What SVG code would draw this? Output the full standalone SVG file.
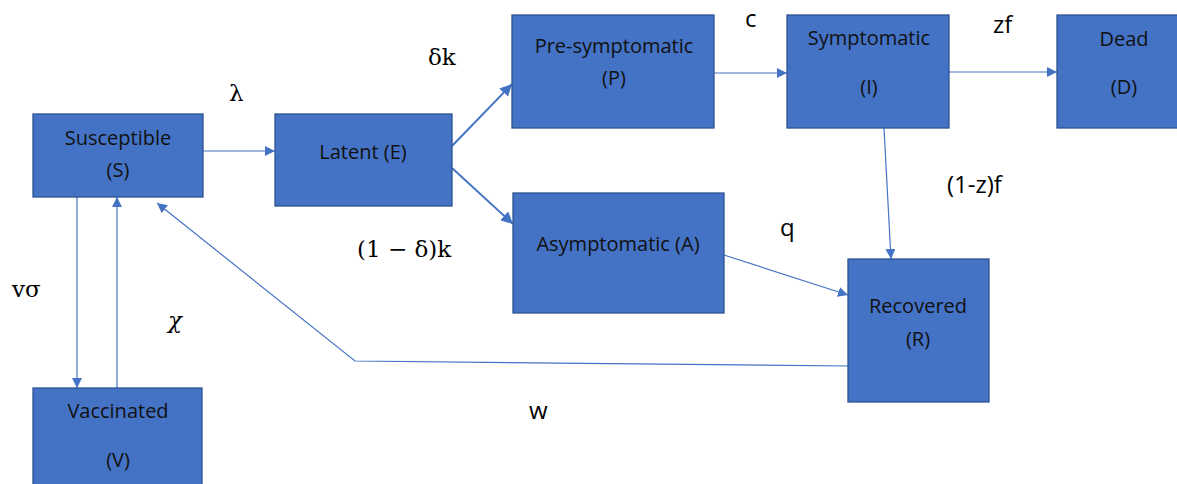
<svg xmlns="http://www.w3.org/2000/svg" width="1177" height="484" viewBox="0 0 1177 484">
<style>
.box{fill:#4472C4;stroke:#2F528F;stroke-width:1.3}
.t{font-family:"Open Sans",Lato,"Liberation Sans",sans-serif;font-size:20px;fill:#111;text-anchor:middle}
.c{stroke:#4472C4;stroke-width:1.2;fill:none}
.ct{stroke:#4472C4;stroke-width:2;fill:none}
.lab{font-family:"Open Sans",Lato,"Liberation Sans",sans-serif;font-size:24px;fill:#000}
.mth{font-family:"DejaVu Serif","Liberation Serif",serif;font-size:23px;fill:#000}
</style>
<defs>
<marker id="ah" viewBox="0 0 10 10" refX="10" refY="5" markerWidth="10" markerHeight="10" markerUnits="userSpaceOnUse" orient="auto">
<path d="M0,0 L10,5 L0,10 z" fill="#4472C4"/>
</marker>
<marker id="ah2" viewBox="0 0 10 10" refX="10" refY="5" markerWidth="12" markerHeight="12" markerUnits="userSpaceOnUse" orient="auto">
<path d="M0,0 L10,5 L0,10 z" fill="#4472C4"/>
</marker>
</defs>
<rect width="1177" height="484" fill="#fff"/>
<g id="connectors">
<line class="c" x1="203" y1="151" x2="275" y2="151" marker-end="url(#ah)"/>
<line class="ct" x1="452" y1="146" x2="512" y2="84" marker-end="url(#ah2)"/>
<line class="ct" x1="452" y1="168" x2="513" y2="224" marker-end="url(#ah2)"/>
<line class="c" x1="714" y1="73" x2="787" y2="73" marker-end="url(#ah)"/>
<line class="c" x1="949" y1="72" x2="1057" y2="72" marker-end="url(#ah)"/>
<line class="c" x1="884" y1="128" x2="891" y2="259" marker-end="url(#ah)"/>
<line class="c" x1="724" y1="255" x2="848" y2="295" marker-end="url(#ah)"/>
<line class="c" x1="77" y1="197" x2="77" y2="388" marker-end="url(#ah)"/>
<line class="c" x1="117" y1="388" x2="117" y2="197" marker-end="url(#ah)"/>
<polyline class="c" points="848,366 355,361 157,203" marker-end="url(#ah)"/>
</g>
<g id="S"><rect class="box" x="33" y="114" width="170" height="83"/><text class="t" x="118" y="145">Susceptible</text><text class="t" x="118" y="177">(S)</text></g>
<g id="E"><rect class="box" x="275" y="114" width="177" height="92"/><text class="t" x="363" y="159">Latent (E)</text></g>
<g id="P"><rect class="box" x="512" y="15" width="202" height="113"/><text class="t" x="614" y="53">Pre-symptomatic</text><text class="t" x="614" y="85">(P)</text></g>
<g id="I"><rect class="box" x="787" y="15" width="162" height="113"/><text class="t" x="869" y="45">Symptomatic</text><text class="t" x="869" y="94">(I)</text></g>
<g id="D"><rect class="box" x="1057" y="15" width="130" height="113"/><text class="t" x="1124" y="46">Dead</text><text class="t" x="1124" y="94">(D)</text></g>
<g id="A"><rect class="box" x="513" y="193" width="211" height="120"/><text class="t" x="618" y="251">Asymptomatic (A)</text></g>
<g id="R"><rect class="box" x="848" y="259" width="141" height="143"/><text class="t" x="918" y="313">Recovered</text><text class="t" x="918" y="346">(R)</text></g>
<g id="V"><rect class="box" x="33" y="388" width="169" height="110"/><text class="t" x="118" y="418">Vaccinated</text><text class="t" x="118" y="467">(V)</text></g>
<g id="labels">
<text class="mth" x="229" y="101">λ</text>
<text class="mth" x="428" y="65">δk</text>
<text class="mth" x="357" y="257">(1 − δ)k</text>
<text class="mth" x="12" y="297">vσ</text>
<text class="mth" x="168" y="328" font-style="italic">χ</text>
<text class="lab" x="745" y="27">c</text>
<text class="lab" x="993" y="33">zf</text>
<text class="lab" x="947" y="193">(1-z)f</text>
<text class="lab" x="780" y="236">q</text>
<text class="lab" x="529" y="419">w</text>
</g>
</svg>
